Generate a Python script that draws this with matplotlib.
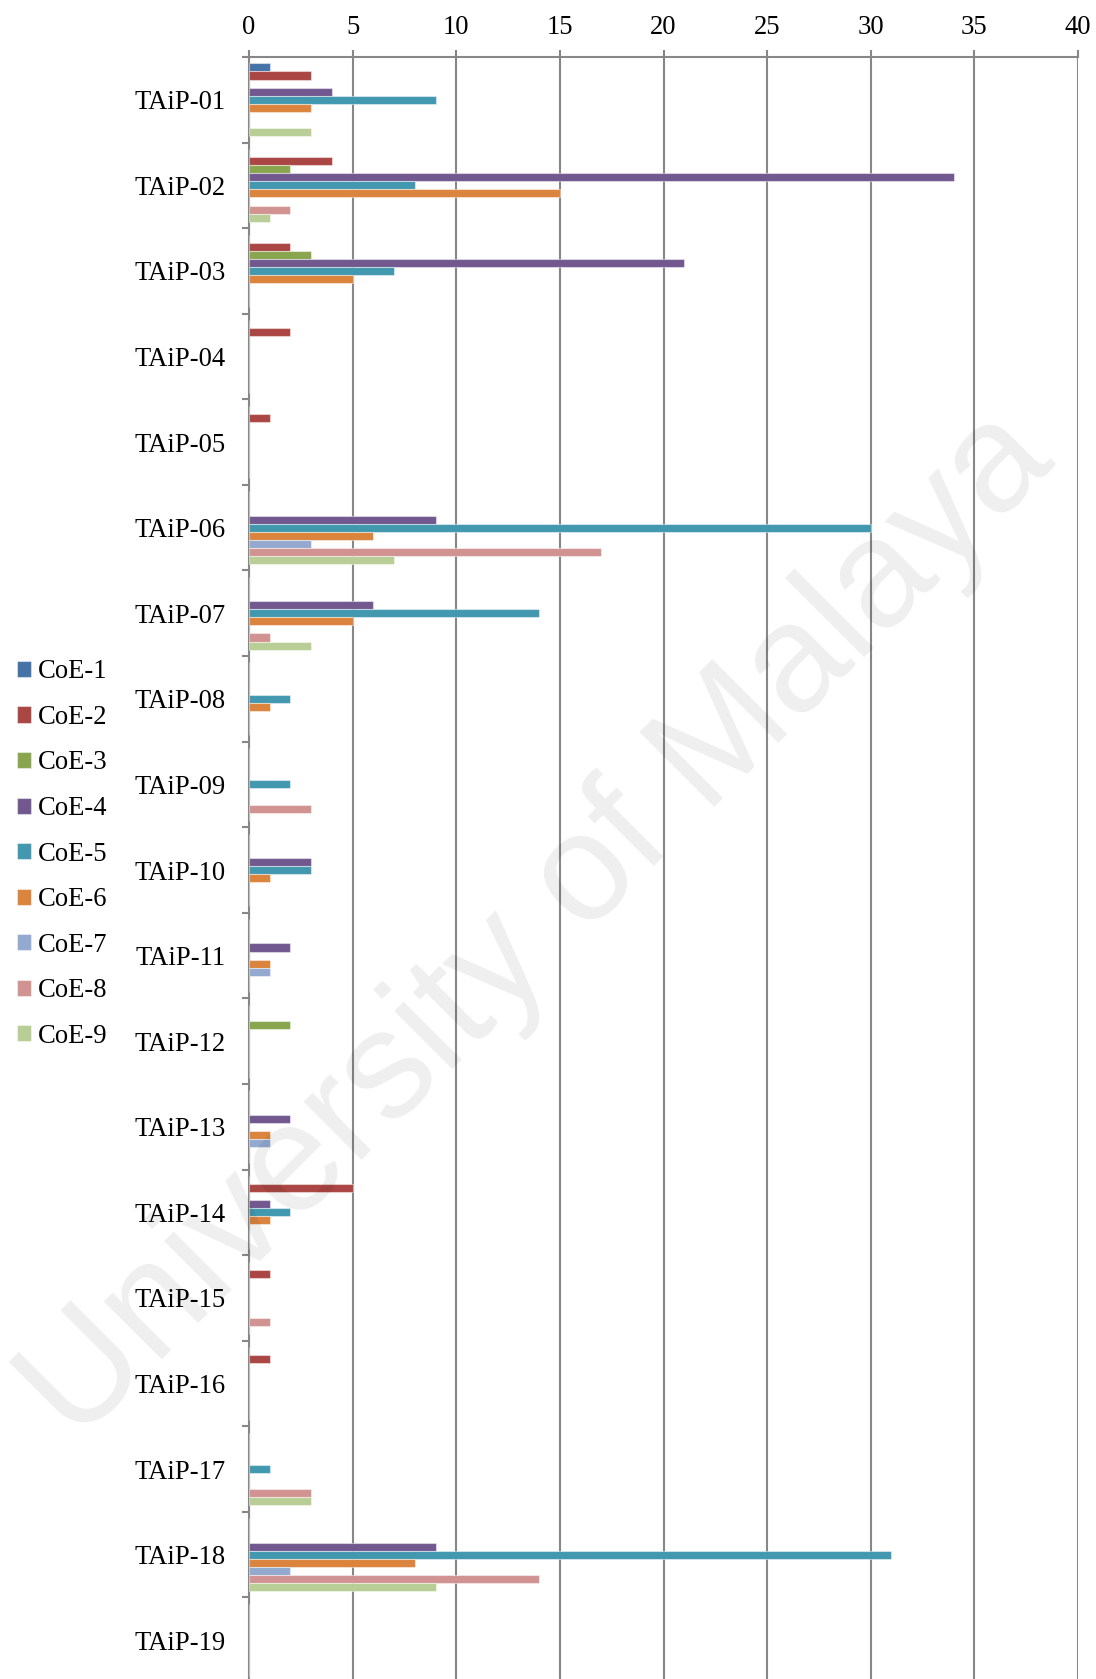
import numpy as np
import matplotlib
matplotlib.use("Agg")
import matplotlib.pyplot as plt

plt.rcParams['font.family'] = ['Liberation Serif', 'DejaVu Serif']

categories = [f"TAiP-{i:02d}" for i in range(1, 20)]
series_names = [f"CoE-{i}" for i in range(1, 10)]

coe1 = [1, 0, 0, 0, 0, 0, 0, 0, 0, 0, 0, 0, 0, 0, 0, 0, 0, 0, 0]
coe2 = [3, 4, 2, 2, 1, 0, 0, 0, 0, 0, 0, 0, 0, 5, 1, 1, 0, 0, 0]
coe3 = [0, 2, 3, 0, 0, 0, 0, 0, 0, 0, 0, 2, 0, 0, 0, 0, 0, 0, 0]
coe4 = [4, 34, 21, 0, 0, 9, 6, 0, 0, 3, 2, 0, 2, 1, 0, 0, 0, 9, 0]
coe5 = [9, 8, 7, 0, 0, 30, 14, 2, 2, 3, 0, 0, 0, 2, 0, 0, 1, 31, 0]
coe6 = [3, 15, 5, 0, 0, 6, 5, 1, 0, 1, 1, 0, 1, 1, 0, 0, 0, 8, 0]
coe7 = [0, 0, 0, 0, 0, 3, 0, 0, 0, 0, 1, 0, 1, 0, 0, 0, 0, 2, 0]
coe8 = [0, 2, 0, 0, 0, 17, 1, 0, 3, 0, 0, 0, 0, 0, 1, 0, 3, 14, 0]
coe9 = [3, 1, 0, 0, 0, 7, 3, 0, 0, 0, 0, 0, 0, 0, 0, 0, 3, 9, 0]
series_values = [coe1, coe2, coe3, coe4, coe5, coe6, coe7, coe8, coe9]

colors = ["#4572A7", "#AA4643", "#89A54E", "#71588F", "#4198AF",
          "#DB843D", "#93A9CF", "#D19392", "#B9CD96"]

W, H = 1096, 1679
fig = plt.figure(figsize=(W / 100, H / 100), dpi=100)
ax = fig.add_axes([249 / W, -4 / H, (1078 - 249) / W, (1683 - 57) / H])

n = len(series_names)
bar_h = 0.0945
y = np.arange(len(categories))
for j, (name, vals, c) in enumerate(zip(series_names, series_values, colors)):
    offs = (j - (n - 1) / 2) * bar_h
    ax.barh(y + offs, vals, height=bar_h, color=c, label=name,
            edgecolor=(1, 1, 1, 0.45), linewidth=0.8, zorder=3)

ax.set_xlim(0, 40)
ax.set_ylim(len(categories) - 0.5, -0.5)

fs = 19.2
grid_c = "#878787"
ax.set_xticks(np.arange(0, 41, 5))
ax.xaxis.tick_top()
ax.tick_params(axis='x', which='major', direction='out', length=5, width=1.5,
               color=grid_c, labelsize=fs, pad=7)
ax.grid(axis='x', color=grid_c, linewidth=1.5, zorder=1)
ax.set_axisbelow(True)

ax.set_yticks(np.arange(-0.5, len(categories), 1))
ax.set_yticklabels([])
ax.set_yticks(y, minor=True)
ax.set_yticklabels(categories, minor=True)
ax.tick_params(axis='y', which='major', direction='out', length=5, width=1.5,
               color=grid_c)
ax.tick_params(axis='y', which='minor', length=0, labelsize=fs, pad=16.5)

for s in ['right', 'bottom']:
    ax.spines[s].set_visible(False)
for s in ['top', 'left']:
    ax.spines[s].set_color(grid_c)
    ax.spines[s].set_linewidth(1.5)

fig.legend(loc='center left', bbox_to_anchor=(6 / W, 1 - 854 / H),
           frameon=False, fontsize=fs, handlelength=0.55, handleheight=0.55,
           handletextpad=0.25, labelspacing=0.77, borderpad=0.4,
           borderaxespad=0)

fig.text(567 / W, 1 - 955 / H, "University of Malaya", rotation=45,
         rotation_mode='anchor', ha='center', va='baseline',
         fontsize=111, family='Liberation Sans', color='black', alpha=0.065,
         zorder=10)

fig.savefig("out.png", dpi=100)
